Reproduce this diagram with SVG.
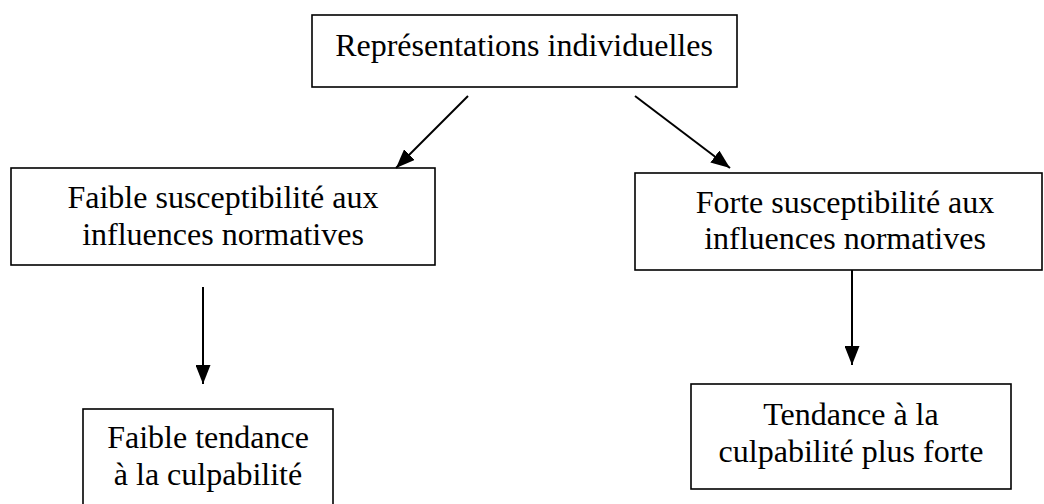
<svg xmlns="http://www.w3.org/2000/svg" width="1044" height="504" viewBox="0 0 1044 504">
<style>
.box{fill:#fff;stroke:#000;stroke-width:1.6}
.t{font-family:"Liberation Serif","Times New Roman",serif;font-size:32px;fill:#000;text-anchor:middle}
.c{stroke:#000;stroke-width:2;fill:none}
</style>
<defs>
<marker id="ah" markerUnits="userSpaceOnUse" markerWidth="20" markerHeight="15" refX="19" refY="7.5" orient="auto">
<path d="M0,0 L19,7.5 L0,15 z" fill="#000"/>
</marker>
</defs>
<rect width="1044" height="504" fill="#fff"/>
<g id="n-top">
<rect class="box" x="312" y="15" width="425" height="72"/>
<text class="t" x="524" y="56">Représentations individuelles</text>
</g>
<g id="n-faible-sus">
<rect class="box" x="11" y="168" width="424" height="97"/>
<text class="t" x="223" y="208">Faible susceptibilité aux</text>
<text class="t" x="223" y="245">influences normatives</text>
</g>
<g id="n-forte-sus">
<rect class="box" x="635" y="173" width="407" height="97"/>
<text class="t" x="845" y="213">Forte susceptibilité aux</text>
<text class="t" x="845" y="249">influences normatives</text>
</g>
<g id="n-faible-tend">
<rect class="box" x="83" y="409" width="250" height="110"/>
<text class="t" x="208" y="448">Faible tendance</text>
<text class="t" x="208" y="485">à la culpabilité</text>
</g>
<g id="n-forte-tend">
<rect class="box" x="691" y="384" width="320" height="105"/>
<text class="t" x="851" y="425">Tendance à la</text>
<text class="t" x="851" y="462">culpabilité plus forte</text>
</g>
<g id="connectors">
<line class="c" x1="468" y1="96" x2="396" y2="168" marker-end="url(#ah)"/>
<line class="c" x1="635" y1="96" x2="730" y2="168" marker-end="url(#ah)"/>
<line class="c" x1="203" y1="287" x2="203" y2="384" marker-end="url(#ah)"/>
<line class="c" x1="852" y1="270" x2="852" y2="365" marker-end="url(#ah)"/>
</g>
</svg>
